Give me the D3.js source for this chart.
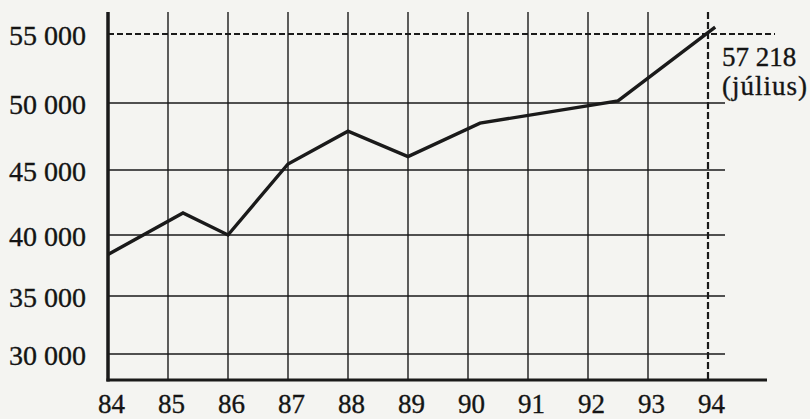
<!DOCTYPE html>
<html>
<head>
<meta charset="utf-8">
<script src="https://cdn.jsdelivr.net/npm/d3@7"></script>
<style>
  html, body { margin: 0; padding: 0; background: #f4f4f1; }
  svg { display: block; }
  text { font-family: "Liberation Serif", "DejaVu Serif", serif; fill: #141414; stroke: #141414; stroke-width: 0.35px; }
</style>
</head>
<body>
<svg id="chart" width="810" height="419"></svg>
<script>
// ---- data ----
const years = [84, 85, 86, 87, 88, 89, 90, 91, 92, 93, 94];
const yearLabels = ["84", "85", "86", "87", "88", "89", "90", "91", "92", "93", "94"];
const yTicks = [30000, 35000, 40000, 45000, 50000, 55000];
const yTickLabels = ["30 000", "35 000", "40 000", "45 000", "50 000", "55 000"];
const lineYears = [84, 85.25, 86, 87, 88, 89, 90.2, 92.5, 94.12];
const lineValues = [38400, 41700, 40000, 45450, 47900, 46000, 48500, 50150, 55500];
const markerYear = 94;
const markerValue = 55000;
const annotationLines = ["57 218", "(július)"];

// ---- layout ----
const topY = 12, baseY = 380;
const gridRight = 725, dashRight = 775, axisRight = 767;
const yRange = [354, 296, 235, 170, 103, 34]; // printed grid spacing of the original
const ink = "#1a1a1a";
const fontFam = '"Liberation Serif", serif';

const svg = d3.select("#chart");

const x = d3.scaleLinear().domain([84, 94]).range([108, 708]);
const y = d3.scaleLinear().domain(yTicks).range(yRange);

// horizontal gridlines (solid)
svg.append("g").selectAll("line")
  .data(yTicks.filter(v => v !== markerValue))
  .join("line")
  .attr("x1", x(84)).attr("x2", gridRight)
  .attr("y1", d => y(d)).attr("y2", d => y(d))
  .attr("stroke", ink).attr("stroke-width", 1.4);

// dashed 55 000 line
svg.append("line")
  .attr("x1", x(84)).attr("x2", dashRight)
  .attr("y1", y(markerValue)).attr("y2", y(markerValue))
  .attr("stroke", ink).attr("stroke-width", 2)
  .attr("stroke-dasharray", "6,3");

// vertical gridlines
svg.append("g").selectAll("line")
  .data(years.filter(v => v !== 84 && v !== markerYear))
  .join("line")
  .attr("x1", d => x(d)).attr("x2", d => x(d))
  .attr("y1", topY).attr("y2", baseY)
  .attr("stroke", ink).attr("stroke-width", 1.4);

// dashed vertical at 94
svg.append("line")
  .attr("x1", x(markerYear)).attr("x2", x(markerYear))
  .attr("y1", topY).attr("y2", baseY)
  .attr("stroke", ink).attr("stroke-width", 2.2)
  .attr("stroke-dasharray", "7,3");

// axes lines
svg.append("line")
  .attr("x1", x(84)).attr("x2", x(84))
  .attr("y1", topY).attr("y2", baseY + 1.5)
  .attr("stroke", ink).attr("stroke-width", 3.5);
svg.append("line")
  .attr("x1", x(84) - 1.5).attr("x2", axisRight)
  .attr("y1", baseY).attr("y2", baseY)
  .attr("stroke", ink).attr("stroke-width", 3);

// y labels via axis
const yAxis = d3.axisLeft(y).tickValues(yTicks)
  .tickFormat((d, i) => yTickLabels[i]).tickSize(0).tickPadding(22);
const gy = svg.append("g").attr("transform", `translate(${x(84)},0)`).call(yAxis);
gy.select(".domain").remove();
gy.selectAll("text").attr("font-size", 28).style("font-family", fontFam)
  .attr("dy", "0.36em");

// x labels via axis
const xAxis = d3.axisBottom(x).tickValues(years)
  .tickFormat((d, i) => yearLabels[i]).tickSize(0).tickPadding(14);
const gx = svg.append("g").attr("transform", `translate(0,${baseY})`).call(xAxis);
gx.select(".domain").remove();
gx.selectAll("text").attr("font-size", 27).style("font-family", fontFam)
  .attr("dx", 3);

// data line
const pts = lineYears.map((yr, i) => [yr, lineValues[i]]);
svg.append("path")
  .datum(pts)
  .attr("d", d3.line().x(d => x(d[0])).y(d => y(d[1])))
  .attr("fill", "none").attr("stroke", ink)
  .attr("stroke-width", 3.4).attr("stroke-linejoin", "miter");

// annotation
svg.append("g").selectAll("text")
  .data(annotationLines)
  .join("text")
  .attr("x", x(markerYear) + 14)
  .attr("y", (d, i) => 66 + i * 29)
  .attr("font-size", 27)
  .style("font-family", fontFam)
  .attr("letter-spacing", (d, i) => i === 1 ? 1 : 0)
  .text(d => d);
</script>
</body>
</html>
